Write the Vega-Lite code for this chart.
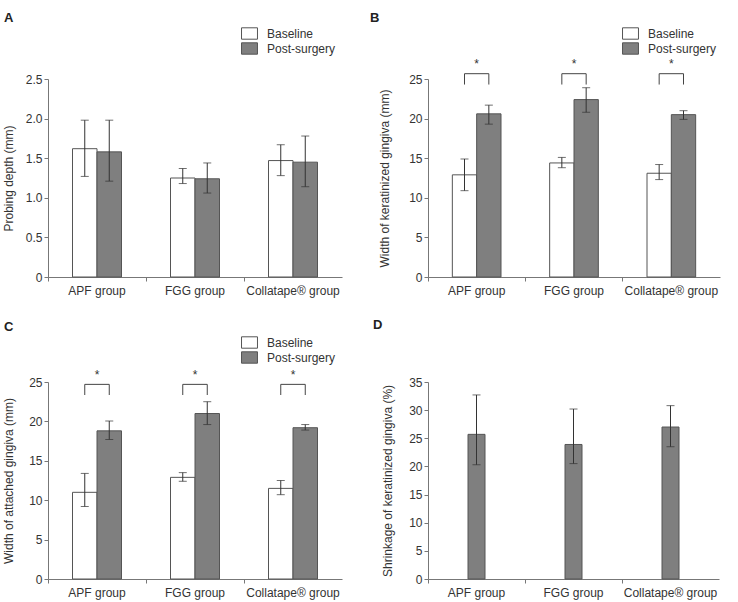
{
  "$schema": "https://vega.github.io/schema/vega-lite/v6.json",
  "padding": {"left": 2, "top": 12, "right": 5, "bottom": 5},
  "background": "white",
  "bounds": "flush",
  "columns": 2,
  "spacing": {"row": 105, "column": 86},
  "config": {
    "view": {"stroke": null},
    "font": "Liberation Sans",
    "axis": {"grid": false, "domainColor": "#777", "tickColor": "#777", "labelColor": "#333", "titleColor": "#333", "labelFont": "Liberation Sans", "titleFont": "Liberation Sans", "labelFontSize": 12, "titleFontSize": 12, "titleFontWeight": "normal", "tickSize": 4, "labelPadding": 2},
    "legend": {"labelFont": "Liberation Sans", "labelFontSize": 12, "labelColor": "#333", "symbolType": "M-1.4,-1H1.4V1H-1.4Z", "symbolSize": 130, "symbolStrokeColor": "#555", "symbolStrokeWidth": 1, "rowPadding": -7, "labelOffset": 11, "symbolOpacity": 1},
    "title": {"anchor": "start", "frame": "group", "fontSize": 13, "fontWeight": "bold", "color": "#222", "font": "Liberation Sans"}
  },
  "datasets": {
    "a": [
      {"group": "APF group", "series": "Baseline", "mean": 1.62, "lo": 1.27, "hi": 1.98},
      {"group": "APF group", "series": "Post-surgery", "mean": 1.58, "lo": 1.21, "hi": 1.98},
      {"group": "FGG group", "series": "Baseline", "mean": 1.25, "lo": 1.18, "hi": 1.37},
      {"group": "FGG group", "series": "Post-surgery", "mean": 1.24, "lo": 1.06, "hi": 1.44},
      {"group": "Collatape® group", "series": "Baseline", "mean": 1.47, "lo": 1.28, "hi": 1.67},
      {"group": "Collatape® group", "series": "Post-surgery", "mean": 1.45, "lo": 1.14, "hi": 1.78}
    ],
    "b": [
      {"group": "APF group", "series": "Baseline", "mean": 12.9, "lo": 10.9, "hi": 14.9},
      {"group": "APF group", "series": "Post-surgery", "mean": 20.6, "lo": 19.3, "hi": 21.7},
      {"group": "FGG group", "series": "Baseline", "mean": 14.4, "lo": 13.8, "hi": 15.1},
      {"group": "FGG group", "series": "Post-surgery", "mean": 22.4, "lo": 20.8, "hi": 23.9},
      {"group": "Collatape® group", "series": "Baseline", "mean": 13.1, "lo": 12.3, "hi": 14.2},
      {"group": "Collatape® group", "series": "Post-surgery", "mean": 20.5, "lo": 19.9, "hi": 21.0}
    ],
    "c": [
      {"group": "APF group", "series": "Baseline", "mean": 11.0, "lo": 9.2, "hi": 13.4},
      {"group": "APF group", "series": "Post-surgery", "mean": 18.8, "lo": 17.7, "hi": 20.05},
      {"group": "FGG group", "series": "Baseline", "mean": 12.9, "lo": 12.4, "hi": 13.5},
      {"group": "FGG group", "series": "Post-surgery", "mean": 21.0, "lo": 19.6, "hi": 22.5},
      {"group": "Collatape® group", "series": "Baseline", "mean": 11.5, "lo": 10.7, "hi": 12.5},
      {"group": "Collatape® group", "series": "Post-surgery", "mean": 19.2, "lo": 18.9, "hi": 19.6}
    ],
    "d": [
      {"group": "APF group", "series": "Post-surgery", "mean": 25.7, "lo": 20.3, "hi": 32.7},
      {"group": "FGG group", "series": "Post-surgery", "mean": 23.9, "lo": 20.5, "hi": 30.2},
      {"group": "Collatape® group", "series": "Post-surgery", "mean": 27.0, "lo": 23.5, "hi": 30.8}
    ],
    "bb": [
      {"group": "APF group", "series": "Baseline", "y": 24.3, "ord": 1},
      {"group": "APF group", "series": "Baseline", "y": 25.67, "ord": 2},
      {"group": "APF group", "series": "Post-surgery", "y": 25.67, "ord": 3},
      {"group": "APF group", "series": "Post-surgery", "y": 24.3, "ord": 4},
      {"group": "FGG group", "series": "Baseline", "y": 24.3, "ord": 1},
      {"group": "FGG group", "series": "Baseline", "y": 25.67, "ord": 2},
      {"group": "FGG group", "series": "Post-surgery", "y": 25.67, "ord": 3},
      {"group": "FGG group", "series": "Post-surgery", "y": 24.3, "ord": 4},
      {"group": "Collatape® group", "series": "Baseline", "y": 24.3, "ord": 1},
      {"group": "Collatape® group", "series": "Baseline", "y": 25.67, "ord": 2},
      {"group": "Collatape® group", "series": "Post-surgery", "y": 25.67, "ord": 3},
      {"group": "Collatape® group", "series": "Post-surgery", "y": 24.3, "ord": 4}
    ],
    "bstar": [
      {"group": "APF group", "y": 26.9, "label": "*"},
      {"group": "FGG group", "y": 26.9, "label": "*"},
      {"group": "Collatape® group", "y": 26.9, "label": "*"}
    ],
    "cb": [
      {"group": "APF group", "series": "Baseline", "y": 23.35, "ord": 1},
      {"group": "APF group", "series": "Baseline", "y": 24.7, "ord": 2},
      {"group": "APF group", "series": "Post-surgery", "y": 24.7, "ord": 3},
      {"group": "APF group", "series": "Post-surgery", "y": 23.35, "ord": 4},
      {"group": "FGG group", "series": "Baseline", "y": 23.35, "ord": 1},
      {"group": "FGG group", "series": "Baseline", "y": 24.7, "ord": 2},
      {"group": "FGG group", "series": "Post-surgery", "y": 24.7, "ord": 3},
      {"group": "FGG group", "series": "Post-surgery", "y": 23.35, "ord": 4},
      {"group": "Collatape® group", "series": "Baseline", "y": 23.35, "ord": 1},
      {"group": "Collatape® group", "series": "Baseline", "y": 24.7, "ord": 2},
      {"group": "Collatape® group", "series": "Post-surgery", "y": 24.7, "ord": 3},
      {"group": "Collatape® group", "series": "Post-surgery", "y": 23.35, "ord": 4}
    ],
    "cstar": [
      {"group": "APF group", "y": 25.9, "label": "*"},
      {"group": "FGG group", "y": 25.9, "label": "*"},
      {"group": "Collatape® group", "y": 25.9, "label": "*"}
    ]
  },
  "resolve": {"scale": {"color": "independent", "y": "independent", "x": "independent", "xOffset": "independent"}, "legend": {"color": "independent"}},
  "concat": [
    {
      "width": 294, "height": 198,
      "title": {"text": "A", "dx": -44, "offset": 2},
      "data": {"name": "a"},
      "encoding": {
        "x": {"field": "group", "type": "nominal", "sort": ["APF group", "FGG group", "Collatape® group"], "scale": {"paddingInner": 0, "paddingOuter": 0}, "axis": {"title": null, "labelAngle": 0, "bandPosition": 0, "labelPadding": 4}},
        "xOffset": {"field": "series", "type": "nominal", "sort": ["Baseline", "Post-surgery"], "scale": {"paddingInner": 0, "paddingOuter": 1.8}}
      },
      "layer": [
        {
          "mark": {"type": "bar", "stroke": "#555", "strokeWidth": 1},
          "encoding": {
            "y": {"field": "mean", "type": "quantitative", "scale": {"domain": [0, 2.5], "nice": false}, "axis": {"title": "Probing depth (mm)", "values": [0, 0.5, 1, 1.5, 2, 2.5], "tickCount": 12, "labelExpr": "datum.value == 0 ? '0' : format(datum.value, '.1f')", "titlePadding": 10}},
            "color": {"field": "series", "type": "nominal", "scale": {"domain": ["Baseline", "Post-surgery"], "range": ["#ffffff", "#7f7f7f"]}, "legend": {"title": null, "orient": "none", "legendX": 195, "legendY": -52}}
          }
        },
        {"mark": {"type": "rule", "color": "#333"}, "encoding": {"y": {"field": "lo", "type": "quantitative"}, "y2": {"field": "hi"}}},
        {"mark": {"type": "tick", "color": "#333", "size": 8, "thickness": 1}, "encoding": {"y": {"field": "lo", "type": "quantitative"}}},
        {"mark": {"type": "tick", "color": "#333", "size": 8, "thickness": 1}, "encoding": {"y": {"field": "hi", "type": "quantitative"}}}
      ]
    },
    {
      "width": 292, "height": 198,
      "title": {"text": "B", "dx": -58, "offset": 2},
      "encoding": {
        "x": {"field": "group", "type": "nominal", "sort": ["APF group", "FGG group", "Collatape® group"], "scale": {"paddingInner": 0, "paddingOuter": 0}, "axis": {"title": null, "labelAngle": 0, "bandPosition": 0, "labelPadding": 4}},
        "xOffset": {"field": "series", "type": "nominal", "sort": ["Baseline", "Post-surgery"], "scale": {"paddingInner": 0, "paddingOuter": 1.8}}
      },
      "layer": [
        {
          "data": {"name": "b"},
          "mark": {"type": "bar", "stroke": "#555", "strokeWidth": 1},
          "encoding": {
            "y": {"field": "mean", "type": "quantitative", "scale": {"domain": [0, 25], "nice": false}, "axis": {"title": "Width of keratinized gingiva (mm)", "values": [0, 5, 10, 15, 20, 25], "tickCount": 12, "titlePadding": 17}},
            "color": {"field": "series", "type": "nominal", "scale": {"domain": ["Baseline", "Post-surgery"], "range": ["#ffffff", "#7f7f7f"]}, "legend": {"title": null, "orient": "none", "legendX": 196, "legendY": -52}}
          }
        },
        {"data": {"name": "b"}, "mark": {"type": "rule", "color": "#333"}, "encoding": {"y": {"field": "lo", "type": "quantitative"}, "y2": {"field": "hi"}}},
        {"data": {"name": "b"}, "mark": {"type": "tick", "color": "#333", "size": 8, "thickness": 1}, "encoding": {"y": {"field": "lo", "type": "quantitative"}}},
        {"data": {"name": "b"}, "mark": {"type": "tick", "color": "#333", "size": 8, "thickness": 1}, "encoding": {"y": {"field": "hi", "type": "quantitative"}}},
        {"data": {"name": "bb"}, "mark": {"type": "line", "color": "#444", "strokeWidth": 1}, "encoding": {"y": {"field": "y", "type": "quantitative"}, "detail": {"field": "group"}, "order": {"field": "ord"}}},
        {"data": {"name": "bstar"}, "mark": {"type": "text", "fontSize": 12, "color": "#333", "baseline": "middle"}, "encoding": {"xOffset": null, "y": {"field": "y", "type": "quantitative"}, "text": {"field": "label"}}}
      ]
    },
    {
      "width": 294, "height": 197,
      "title": {"text": "C", "dx": -44, "offset": 2},
      "encoding": {
        "x": {"field": "group", "type": "nominal", "sort": ["APF group", "FGG group", "Collatape® group"], "scale": {"paddingInner": 0, "paddingOuter": 0}, "axis": {"title": null, "labelAngle": 0, "bandPosition": 0, "labelPadding": 4}},
        "xOffset": {"field": "series", "type": "nominal", "sort": ["Baseline", "Post-surgery"], "scale": {"paddingInner": 0, "paddingOuter": 1.8}}
      },
      "layer": [
        {
          "data": {"name": "c"},
          "mark": {"type": "bar", "stroke": "#555", "strokeWidth": 1},
          "encoding": {
            "y": {"field": "mean", "type": "quantitative", "scale": {"domain": [0, 25], "nice": false}, "axis": {"title": "Width of attached gingiva (mm)", "values": [0, 5, 10, 15, 20, 25], "tickCount": 12, "titlePadding": 13}},
            "color": {"field": "series", "type": "nominal", "scale": {"domain": ["Baseline", "Post-surgery"], "range": ["#ffffff", "#7f7f7f"]}, "legend": {"title": null, "orient": "none", "legendX": 195, "legendY": -46}}
          }
        },
        {"data": {"name": "c"}, "mark": {"type": "rule", "color": "#333"}, "encoding": {"y": {"field": "lo", "type": "quantitative"}, "y2": {"field": "hi"}}},
        {"data": {"name": "c"}, "mark": {"type": "tick", "color": "#333", "size": 8, "thickness": 1}, "encoding": {"y": {"field": "lo", "type": "quantitative"}}},
        {"data": {"name": "c"}, "mark": {"type": "tick", "color": "#333", "size": 8, "thickness": 1}, "encoding": {"y": {"field": "hi", "type": "quantitative"}}},
        {"data": {"name": "cb"}, "mark": {"type": "line", "color": "#444", "strokeWidth": 1}, "encoding": {"y": {"field": "y", "type": "quantitative"}, "detail": {"field": "group"}, "order": {"field": "ord"}}},
        {"data": {"name": "cstar"}, "mark": {"type": "text", "fontSize": 12, "color": "#333", "baseline": "middle"}, "encoding": {"xOffset": null, "y": {"field": "y", "type": "quantitative"}, "text": {"field": "label"}}}
      ]
    },
    {
      "width": 291, "height": 197,
      "title": {"text": "D", "dx": -55, "offset": 44},
      "data": {"name": "d"},
      "encoding": {
        "x": {"field": "group", "type": "nominal", "sort": ["APF group", "FGG group", "Collatape® group"], "scale": {"paddingInner": 0, "paddingOuter": 0}, "axis": {"title": null, "labelAngle": 0, "bandPosition": 0, "labelPadding": 4}}
      },
      "layer": [
        {
          "mark": {"type": "bar", "stroke": "#555", "strokeWidth": 1, "width": 17},
          "encoding": {
            "y": {"field": "mean", "type": "quantitative", "scale": {"domain": [0, 35], "nice": false}, "axis": {"title": "Shrinkage of keratinized gingiva (%)", "values": [0, 5, 10, 15, 20, 25, 30, 35], "tickCount": 12, "titlePadding": 14}},
            "color": {"value": "#7f7f7f"}
          }
        },
        {"mark": {"type": "rule", "color": "#333"}, "encoding": {"y": {"field": "lo", "type": "quantitative"}, "y2": {"field": "hi"}}},
        {"mark": {"type": "tick", "color": "#333", "size": 8, "thickness": 1}, "encoding": {"y": {"field": "lo", "type": "quantitative"}}},
        {"mark": {"type": "tick", "color": "#333", "size": 8, "thickness": 1}, "encoding": {"y": {"field": "hi", "type": "quantitative"}}}
      ]
    }
  ]
}
